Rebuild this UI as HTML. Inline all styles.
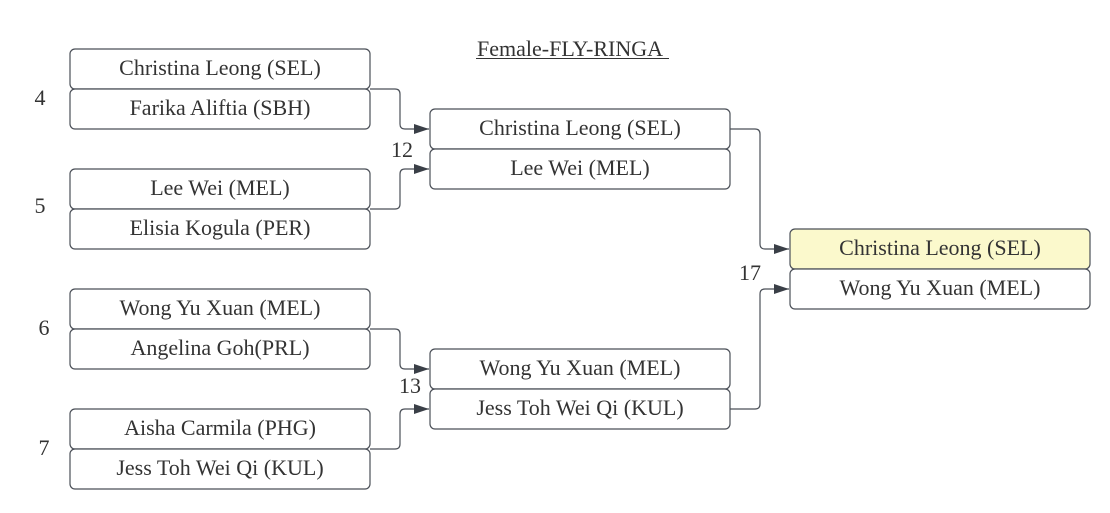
<!DOCTYPE html>
<html><head><meta charset="utf-8"><style>
html,body{margin:0;padding:0;background:#fff;}
svg text{font-family:"Liberation Serif",serif;fill:#333;}
</style></head><body>
<svg width="1110" height="508" viewBox="0 0 1110 508" xmlns="http://www.w3.org/2000/svg">
<defs><marker id="a" markerWidth="16" markerHeight="12" refX="15" refY="6" orient="auto" markerUnits="userSpaceOnUse"><path d="M0,1 L15,6 L0,11 z" fill="#3a3f47"/></marker></defs>
<g fill="#fff" stroke="#4a4f57" stroke-width="1.2">
<rect x="70" y="49" width="300" height="40" rx="5"/><rect x="70" y="89" width="300" height="40" rx="5"/>
<rect x="70" y="169" width="300" height="40" rx="5"/><rect x="70" y="209" width="300" height="40" rx="5"/>
<rect x="70" y="289" width="300" height="40" rx="5"/><rect x="70" y="329" width="300" height="40" rx="5"/>
<rect x="70" y="409" width="300" height="40" rx="5"/><rect x="70" y="449" width="300" height="40" rx="5"/>
<rect x="430" y="109" width="300" height="40" rx="5"/><rect x="430" y="149" width="300" height="40" rx="5"/>
<rect x="430" y="349" width="300" height="40" rx="5"/><rect x="430" y="389" width="300" height="40" rx="5"/>
<rect x="790" y="229" width="300" height="40" rx="5" fill="#fbf9cc"/><rect x="790" y="269" width="300" height="40" rx="5"/>
</g>
<g fill="none" stroke="#4a4f57" stroke-width="1.2">
<path d="M370,89 H395 Q400,89 400,94 V124 Q400,129 405,129 H429" marker-end="url(#a)"/>
<path d="M370,209 H395 Q400,209 400,204 V174 Q400,169 405,169 H429" marker-end="url(#a)"/>
<path d="M370,329 H395 Q400,329 400,334 V364 Q400,369 405,369 H429" marker-end="url(#a)"/>
<path d="M370,449 H395 Q400,449 400,444 V414 Q400,409 405,409 H429" marker-end="url(#a)"/>
<path d="M730,129 H755 Q760,129 760,134 V244 Q760,249 765,249 H789" marker-end="url(#a)"/>
<path d="M730,409 H755 Q760,409 760,404 V294 Q760,289 765,289 H789" marker-end="url(#a)"/>
</g>
<g font-size="22" text-anchor="middle">
<text x="220" y="75">Christina Leong (SEL)</text>
<text x="220" y="115">Farika Aliftia (SBH)</text>
<text x="220" y="195">Lee Wei (MEL)</text>
<text x="220" y="235">Elisia Kogula (PER)</text>
<text x="220" y="315">Wong Yu Xuan (MEL)</text>
<text x="220" y="355">Angelina Goh(PRL)</text>
<text x="220" y="435">Aisha Carmila (PHG)</text>
<text x="220" y="475">Jess Toh Wei Qi (KUL)</text>
<text x="580" y="135">Christina Leong (SEL)</text>
<text x="580" y="175">Lee Wei (MEL)</text>
<text x="580" y="375">Wong Yu Xuan (MEL)</text>
<text x="580" y="415">Jess Toh Wei Qi (KUL)</text>
<text x="940" y="255">Christina Leong (SEL)</text>
<text x="940" y="295">Wong Yu Xuan (MEL)</text>
<text x="40" y="105">4</text>
<text x="40" y="213">5</text>
<text x="44" y="335">6</text>
<text x="44" y="455">7</text>
<text x="402" y="157">12</text>
<text x="410" y="393">13</text>
<text x="750" y="280">17</text>
<text x="570" y="56">Female-FLY-RINGA</text>
</g>
<line x1="476" y1="58.5" x2="669" y2="58.5" stroke="#333" stroke-width="1"/>
</svg>
</body></html>
